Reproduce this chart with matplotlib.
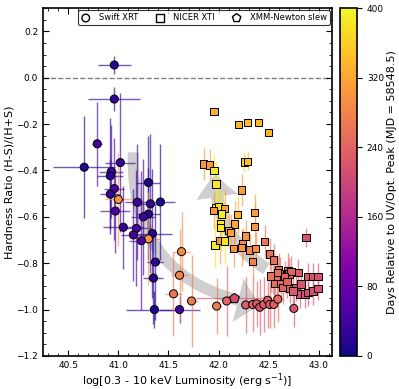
import numpy as np
import matplotlib
matplotlib.use("Agg")
import matplotlib.pyplot as plt
from matplotlib.patches import FancyArrowPatch
from matplotlib.ticker import AutoMinorLocator

# Swift XRT: log L, hardness ratio, x error, y error, days since peak
swift_x = [40.96, 40.96, 40.79, 40.66, 41.02, 40.93, 40.92, 40.96, 40.92, 41.30,
           41.00, 41.19, 41.32, 41.42, 40.97, 41.30, 41.25, 41.05, 41.18, 41.34,
           41.15, 41.30, 41.23, 41.37, 41.35, 41.36, 41.61, 41.63, 41.61, 41.55,
           41.73, 41.98, 42.08, 42.27, 42.34, 42.38, 42.41, 42.45, 42.49, 42.51,
           42.55, 42.59, 42.75]
swift_hr = [0.055, -0.092, -0.285, -0.386, -0.366, -0.405, -0.423, -0.478, -0.502, -0.452,
            -0.525, -0.537, -0.544, -0.536, -0.575, -0.588, -0.600, -0.645, -0.650, -0.672,
            -0.678, -0.695, -0.703, -0.795, -0.864, -1.000, -1.000, -0.750, -0.852, -0.932,
            -0.963, -0.985, -0.963, -0.980, -0.978, -0.975, -0.990, -0.978, -0.960, -0.978,
            -0.978, -0.955, -0.995]
swift_xerr = [0.165, 0.26, 0.05, 0.31, 0.15, 0.12, 0.13, 0.10, 0.10, 0.12,
              0.13, 0.12, 0.10, 0.15, 0.15, 0.12, 0.12, 0.20, 0.15, 0.20,
              0.12, 0.12, 0.12, 0.08, 0.10, 0.28, 0.20, 0.08, 0.08, 0.08,
              0.06, 0.05, 0.05, 0.03, 0.03, 0.03, 0.03, 0.03, 0.03, 0.03,
              0.03, 0.03, 0.03]
swift_hrerr = [0.04, 0.05, 0.18, 0.22, 0.30, 0.20, 0.25, 0.22, 0.15, 0.20,
               0.20, 0.25, 0.30, 0.25, 0.18, 0.20, 0.25, 0.18, 0.25, 0.28,
               0.20, 0.20, 0.30, 0.25, 0.20, 0.08, 0.06, 0.17, 0.20, 0.18,
               0.20, 0.12, 0.15, 0.12, 0.12, 0.10, 0.12, 0.12, 0.12, 0.10,
               0.10, 0.10, 0.08]
swift_days = [15, 25, 40, 15, 30, 45, 20, 50, 25, 10,
              300, 40, 30, 10, 45, 20, 35, 30, 45, 15,
              40, 300, 50, 25, 20, 10, 40, 290, 280, 260,
              270, 270, 240, 230, 240, 230, 220, 230, 230, 240,
              230, 250, 220]

# NICER XTI
nicer_x = [41.955, 42.20, 42.29, 42.40, 42.50, 41.85, 41.91, 41.955, 42.255, 42.29,
           41.975, 42.23, 41.97, 42.00, 41.95, 42.06, 42.03, 42.02, 42.02, 42.19,
           42.36, 42.16, 42.36, 42.10, 42.12, 41.965, 42.01, 42.06, 42.27, 42.24,
           42.15, 42.23, 42.31, 42.37, 42.46, 42.34, 42.51, 42.55, 42.60, 42.69,
           42.54, 42.87, 42.79, 42.89, 42.94, 42.99, 42.70, 42.72, 42.61, 42.66,
           42.58, 42.56, 42.62, 42.64, 42.71, 42.77, 42.81, 42.86, 42.89, 42.94,
           42.74, 42.82, 42.99, 42.68, 42.52, 42.59]
nicer_hr = [-0.145, -0.203, -0.193, -0.193, -0.236, -0.372, -0.376, -0.400, -0.363, -0.360,
            -0.459, -0.484, -0.560, -0.558, -0.573, -0.564, -0.588, -0.628, -0.647, -0.589,
            -0.580, -0.631, -0.642, -0.660, -0.668, -0.722, -0.703, -0.704, -0.683, -0.717,
            -0.736, -0.733, -0.743, -0.736, -0.706, -0.793, -0.761, -0.786, -0.826, -0.834,
            -0.855, -0.689, -0.840, -0.858, -0.858, -0.858, -0.847, -0.837, -0.845, -0.860,
            -0.865, -0.887, -0.887, -0.905, -0.910, -0.905, -0.933, -0.933, -0.926, -0.920,
            -0.920, -0.890, -0.910, -0.880, -0.855, -0.840]
nicer_hrerr = [0.02, 0.02, 0.02, 0.01, 0.01, 0.07, 0.07, 0.07, 0.04, 0.04,
               0.10, 0.07, 0.10, 0.10, 0.08, 0.08, 0.10, 0.10, 0.10, 0.08,
               0.08, 0.10, 0.10, 0.08, 0.08, 0.10, 0.10, 0.10, 0.07, 0.07,
               0.08, 0.08, 0.07, 0.07, 0.07, 0.07, 0.07, 0.07, 0.07, 0.08,
               0.08, 0.04, 0.06, 0.06, 0.06, 0.06, 0.07, 0.07, 0.07, 0.07,
               0.07, 0.07, 0.07, 0.07, 0.06, 0.06, 0.06, 0.06, 0.06, 0.06,
               0.06, 0.06, 0.05, 0.07, 0.07, 0.07]
nicer_days = [325, 335, 340, 335, 330, 300, 305, 390, 355, 345,
              385, 305, 385, 375, 300, 310, 390, 385, 385, 335,
              310, 320, 300, 320, 315, 385, 300, 380, 300, 290,
              295, 300, 285, 290, 260, 275, 255, 250, 245, 240,
              250, 215, 225, 220, 215, 215, 235, 240, 245, 240,
              255, 250, 245, 235, 230, 225, 215, 215, 210, 215,
              225, 220, 220, 235, 260, 250]

# XMM-Newton slew
xmm_x = [42.15]
xmm_hr = [-0.948]
xmm_xerr = [0.38]
xmm_hrerr = [0.02]
xmm_days = [210]

cmap = plt.get_cmap('plasma')
norm = matplotlib.colors.Normalize(vmin=0, vmax=400)

fig = plt.figure(figsize=(3.99, 3.89), dpi=100)
ax = fig.add_axes([0.108, 0.085, 0.724, 0.894])
cax = fig.add_axes([0.852, 0.085, 0.043, 0.894])

# gray arrows showing the direction of evolution
arr1 = FancyArrowPatch((41.15, -0.31), (42.44, -0.98), connectionstyle="arc3,rad=0.45",
                       arrowstyle="simple,head_width=32,head_length=16,tail_width=8",
                       color='#cfcfcf', lw=0, zorder=1)
arr2 = FancyArrowPatch((42.5, -0.83), (41.975, -0.40), connectionstyle="arc3,rad=-0.3",
                       arrowstyle="simple,head_width=30,head_length=17,tail_width=9",
                       color='#cfcfcf', lw=0, zorder=1)
ax.add_patch(arr1)
ax.add_patch(arr2)

ax.axhline(0, color='gray', ls='--', lw=1, zorder=0)

for i in range(len(swift_x)):
    c = cmap(norm(swift_days[i]))
    ax.errorbar(swift_x[i], swift_hr[i], xerr=swift_xerr[i], yerr=swift_hrerr[i],
                fmt='none', ecolor=c, alpha=0.65, lw=1.0, zorder=2)
ax.scatter(swift_x, swift_hr, c=swift_days, cmap=cmap, norm=norm, marker='o', s=34,
           edgecolors='k', linewidths=0.7, zorder=4)

for i in range(len(nicer_x)):
    c = cmap(norm(nicer_days[i]))
    ax.errorbar(nicer_x[i], nicer_hr[i], yerr=nicer_hrerr[i], xerr=0.01,
                fmt='none', ecolor=c, alpha=0.65, lw=1.0, zorder=2)
ax.scatter(nicer_x, nicer_hr, c=nicer_days, cmap=cmap, norm=norm, marker='s', s=28,
           edgecolors='k', linewidths=0.7, zorder=4)

for i in range(len(xmm_x)):
    c = cmap(norm(xmm_days[i]))
    ax.errorbar(xmm_x[i], xmm_hr[i], xerr=xmm_xerr[i], yerr=xmm_hrerr[i],
                fmt='none', ecolor=c, alpha=0.65, lw=1.0, zorder=2)
ax.scatter(xmm_x, xmm_hr, c=xmm_days, cmap=cmap, norm=norm, marker='p', s=55,
           edgecolors='k', linewidths=0.7, zorder=4)

# legend with open markers
ax.scatter([], [], marker='o', facecolors='none', edgecolors='k', s=30, label='Swift XRT')
ax.scatter([], [], marker='s', facecolors='none', edgecolors='k', s=30, label='NICER XTI')
ax.scatter([], [], marker='p', facecolors='none', edgecolors='k', s=40, label='XMM-Newton slew')
h, l = ax.get_legend_handles_labels()
leg = ax.legend(h[-3:], l[-3:], loc='upper right', ncol=3, fontsize=6, frameon=True,
                edgecolor='k', fancybox=True, borderpad=0.35, columnspacing=2.0,
                handletextpad=1.0, borderaxespad=0.25, handlelength=1.2)
leg.get_frame().set_linewidth(0.8)

ax.set_xlim(40.25, 43.13)
ax.set_ylim(-1.2, 0.3)
ax.set_xticks([40.5, 41.0, 41.5, 42.0, 42.5, 43.0])
ax.set_yticks([-1.2, -1.0, -0.8, -0.6, -0.4, -0.2, 0.0, 0.2])
ax.xaxis.set_minor_locator(AutoMinorLocator())
ax.yaxis.set_minor_locator(AutoMinorLocator())
ax.tick_params(which='both', direction='in', top=True, right=True, labelsize=6.5)
ax.tick_params(which='major', length=4)
ax.tick_params(which='minor', length=2)
for s in ax.spines.values():
    s.set_linewidth(1.2)
ax.set_xlabel(r'log[0.3 - 10 keV Luminosity (erg s$^{-1}$)]', fontsize=8, labelpad=1)
ax.set_ylabel('Hardness Ratio (H-S)/(H+S)', fontsize=8, labelpad=1)

sm = matplotlib.cm.ScalarMappable(norm=norm, cmap=cmap)
cb = fig.colorbar(sm, cax=cax, ticks=[0, 80, 160, 240, 320, 400])
cb.set_label('Days Relative to UV/Opt. Peak (MJD = 58548.5)', fontsize=8, labelpad=2)
cb.ax.tick_params(labelsize=6.5, direction='out')
cb.outline.set_linewidth(1.2)

fig.savefig('out.png', dpi=100)
